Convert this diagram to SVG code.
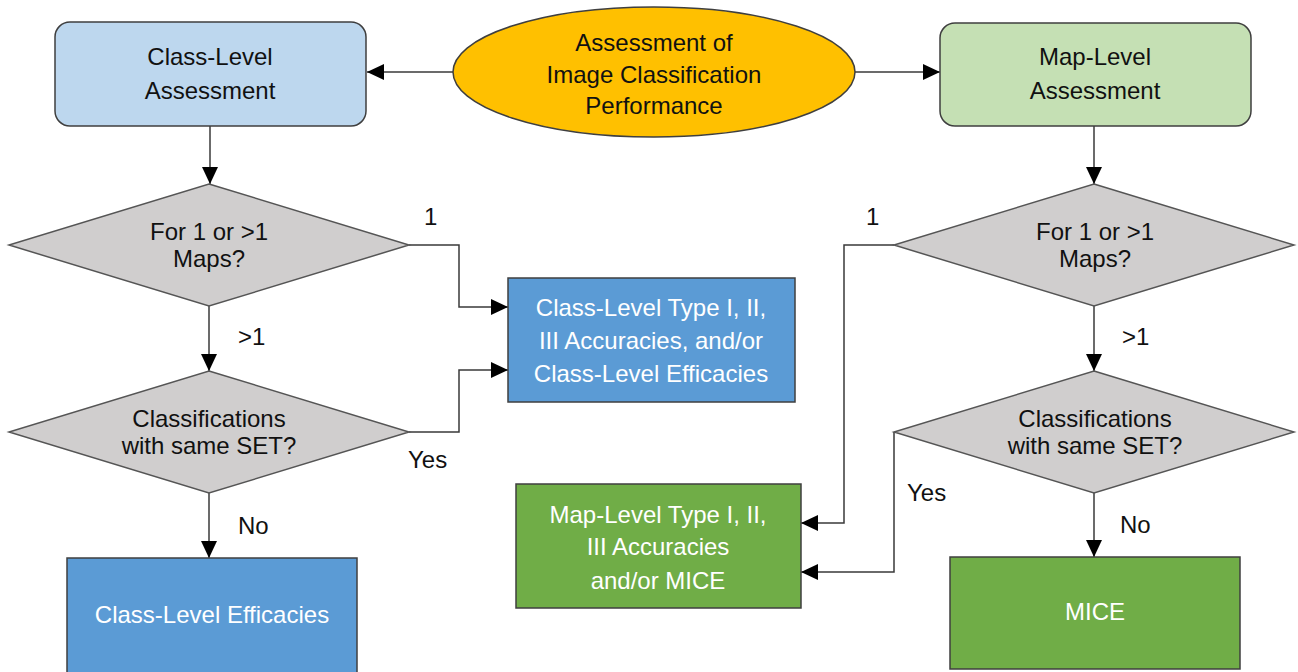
<svg xmlns="http://www.w3.org/2000/svg" width="1298" height="672" viewBox="0 0 1298 672">
<style>
text{font-family:"Liberation Sans",Arial,sans-serif;font-size:24px;fill:#111;text-anchor:middle}
.w{fill:#fff}
.lbl{text-anchor:start}
.box{stroke:#3f3f3f;stroke-width:1.5}
.dia{fill:#D0CECE;stroke:#555;stroke-width:1.5}
.con{fill:none;stroke:#3a3a3a;stroke-width:1.5}
</style>
<defs>
<marker id="ah" markerUnits="userSpaceOnUse" markerWidth="17" markerHeight="16" refX="17" refY="8" orient="auto">
<path d="M0,0 L17,8 L0,16 z" fill="#000"/>
</marker>
</defs>
<rect width="1298" height="672" fill="#fff"/>
<g id="connectors">
<path class="con" d="M453,72 H367" marker-end="url(#ah)"/>
<path class="con" d="M855,72 H940" marker-end="url(#ah)"/>
<path class="con" d="M210,126 V184" marker-end="url(#ah)"/>
<path class="con" d="M1094,126 V184" marker-end="url(#ah)"/>
<path class="con" d="M409,245 H459 V307 H508" marker-end="url(#ah)"/>
<path class="con" d="M209,306 V371" marker-end="url(#ah)"/>
<path class="con" d="M409,432 H459 V370 H508" marker-end="url(#ah)"/>
<path class="con" d="M209,493 V558" marker-end="url(#ah)"/>
<path class="con" d="M894,245 H844 V523 H801" marker-end="url(#ah)"/>
<path class="con" d="M1094,306 V371" marker-end="url(#ah)"/>
<path class="con" d="M894,432 V572 H801" marker-end="url(#ah)"/>
<path class="con" d="M1094,493 V557" marker-end="url(#ah)"/>
<text class="lbl" x="424" y="225">1</text>
<text class="lbl" x="238" y="345">&gt;1</text>
<text class="lbl" x="408" y="468">Yes</text>
<text class="lbl" x="238" y="534">No</text>
<text class="lbl" x="866" y="225">1</text>
<text class="lbl" x="1122" y="345">&gt;1</text>
<text class="lbl" x="907" y="501">Yes</text>
<text class="lbl" x="1120" y="533">No</text>
</g>
<g id="start">
<ellipse class="box" cx="654" cy="72" rx="201" ry="65" fill="#FFC000"/>
<text x="654" y="51">Assessment of</text>
<text x="654" y="83">Image Classification</text>
<text x="654" y="114">Performance</text>
</g>
<g id="class-level">
<rect class="box" x="55" y="22" width="311" height="104" rx="15" fill="#BDD7EE"/>
<text x="210" y="65">Class-Level</text>
<text x="210" y="99">Assessment</text>
</g>
<g id="map-level">
<rect class="box" x="940" y="23" width="311" height="103" rx="15" fill="#C5E0B4"/>
<text x="1095" y="65">Map-Level</text>
<text x="1095" y="99">Assessment</text>
</g>
<g id="left-maps">
<polygon class="dia" points="209,184 409,245 209,306 9,245"/>
<text x="209" y="240">For 1 or &gt;1</text>
<text x="209" y="267">Maps?</text>
</g>
<g id="left-set">
<polygon class="dia" points="209,371 409,432 209,493 9,432"/>
<text x="209" y="427">Classifications</text>
<text x="209" y="454">with same SET?</text>
</g>
<g id="right-maps">
<polygon class="dia" points="1094,184 1294,245 1094,306 894,245"/>
<text x="1095" y="240">For 1 or &gt;1</text>
<text x="1095" y="267">Maps?</text>
</g>
<g id="right-set">
<polygon class="dia" points="1094,371 1294,432 1094,493 894,432"/>
<text x="1095" y="427">Classifications</text>
<text x="1095" y="454">with same SET?</text>
</g>
<g id="class-type">
<rect class="box" x="508" y="278" width="287" height="124" fill="#5B9BD5"/>
<text class="w" x="651" y="316">Class-Level Type I, II,</text>
<text class="w" x="651" y="349">III Accuracies, and/or</text>
<text class="w" x="651" y="382">Class-Level Efficacies</text>
</g>
<g id="class-eff">
<rect class="box" x="67" y="558" width="290" height="130" fill="#5B9BD5"/>
<text class="w" x="212" y="623">Class-Level Efficacies</text>
</g>
<g id="map-type">
<rect class="box" x="516" y="484" width="285" height="124" fill="#70AD47"/>
<text class="w" x="658" y="523">Map-Level Type I, II,</text>
<text class="w" x="658" y="555">III Accuracies</text>
<text class="w" x="658" y="589">and/or MICE</text>
</g>
<g id="mice">
<rect class="box" x="950" y="557" width="290" height="112" fill="#70AD47"/>
<text class="w" x="1095" y="620">MICE</text>
</g>
</svg>
